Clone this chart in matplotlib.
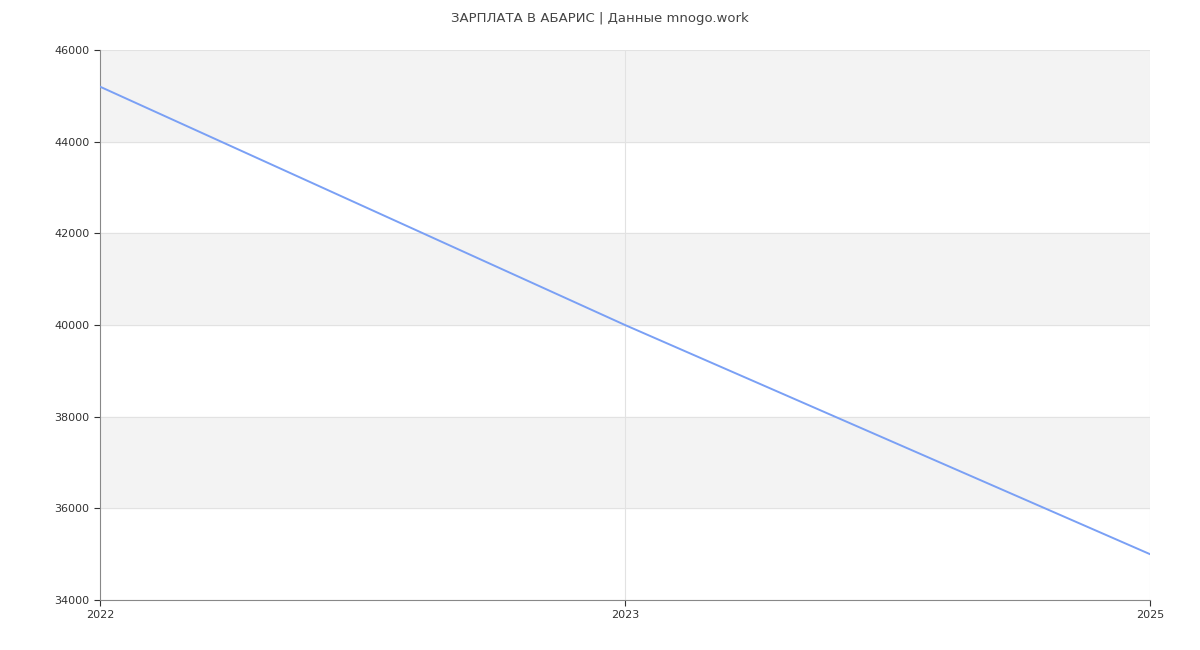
import matplotlib.pyplot as plt

years = ['2022', '2023', '2025']
salary = [45200, 40000, 35000]
y_ticks = [34000, 36000, 38000, 40000, 42000, 44000, 46000]

fig = plt.figure(figsize=(12, 6.5), dpi=100)
ax = fig.add_axes([100/1200, 50/650, 1050/1200, 550/650])

# alternating horizontal bands
for lo in (36000, 40000, 44000):
    ax.axhspan(lo, lo + 2000, color='#f3f3f3', zorder=0)
for y in y_ticks:
    ax.axhline(y, color='#e2e2e2', linewidth=0.8, zorder=1)
ax.axvline(1, color='#e2e2e2', linewidth=0.8, zorder=1)
ax.axvline(2, color='#e2e2e2', linewidth=0.8, zorder=1)

x = list(range(len(years)))
ax.plot(x, salary, color='#7aa0f5', linewidth=1.4, zorder=3)

ax.set_xlim(0, 2)
ax.set_ylim(34000, 46000)
ax.set_xticks(x)
ax.set_xticklabels(years)
ax.set_yticks(y_ticks)
ax.tick_params(labelsize=8, colors='#333333', length=4)
ax.tick_params(axis='x', colors='#333333')
for side in ('top', 'right'):
    ax.spines[side].set_visible(False)
for side in ('left', 'bottom'):
    ax.spines[side].set_color('#888888')

fig.text(0.5, 0.982, 'ЗАРПЛАТА В АБАРИС | Данные mnogo.work', ha='center', va='top',
         fontsize=9.5, color='#444444')

fig.savefig('out.png', dpi=100)
